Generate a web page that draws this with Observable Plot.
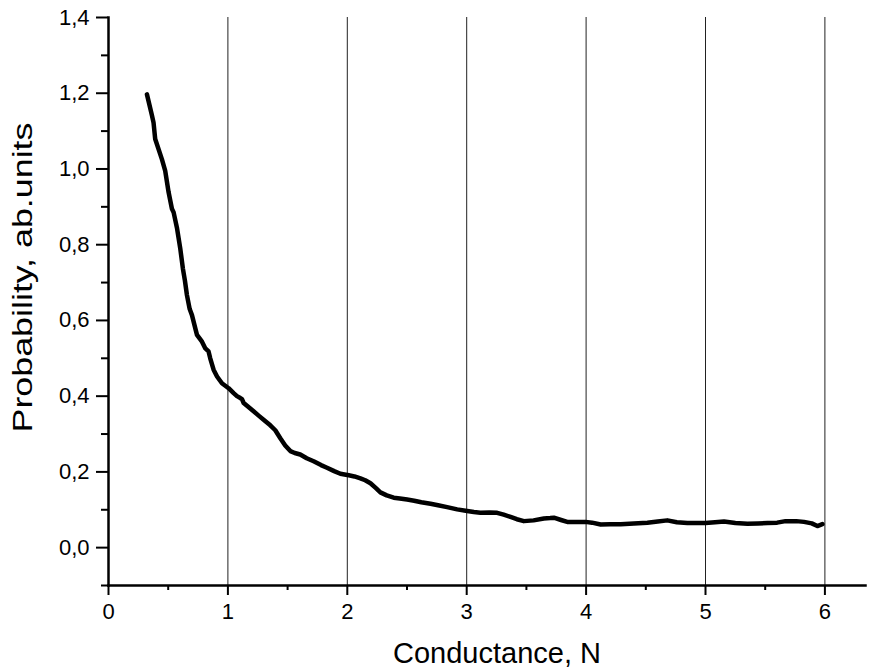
<!DOCTYPE html>
<html>
<head>
<meta charset="utf-8">
<script src="https://cdn.jsdelivr.net/npm/d3@7"></script>
<script src="https://cdn.jsdelivr.net/npm/@observablehq/plot@0.6"></script>
<style>
  html, body { margin: 0; padding: 0; background: #fff; }
  #chart { width: 879px; height: 670px; }
  svg { font-family: "Liberation Sans", Arial, sans-serif; }
</style>
</head>
<body>
<div id="chart"></div>
<script>
// Conductance (x) values
const conductance = [
  0.322, 0.364, 0.377, 0.391, 0.447, 0.475, 0.503, 0.531, 0.545, 0.573,
  0.601, 0.623, 0.640, 0.657, 0.680, 0.699, 0.727, 0.741, 0.783, 0.811,
  0.838, 0.852, 0.880, 0.909, 0.950, 1.006, 1.048, 1.076, 1.104, 1.118,
  1.132, 1.170, 1.215, 1.260, 1.299, 1.355, 1.397, 1.439, 1.480, 1.523,
  1.560, 1.606, 1.660, 1.718, 1.780, 1.830, 1.890, 1.942, 2.012, 2.060,
  2.110, 2.150, 2.194, 2.240, 2.277, 2.330, 2.389, 2.440, 2.501, 2.560,
  2.620, 2.697, 2.760, 2.836, 2.920, 3.004, 3.060, 3.115, 3.190, 3.255,
  3.310, 3.367, 3.420, 3.479, 3.560, 3.646, 3.700, 3.730, 3.790, 3.842,
  3.920, 3.995, 4.050, 4.122, 4.200, 4.290, 4.400, 4.513, 4.600, 4.680,
  4.760, 4.848, 4.920, 5.000, 5.080, 5.155, 5.250, 5.351, 5.440, 5.519,
  5.600, 5.670, 5.760, 5.825, 5.890, 5.937, 5.979
];
// Probability (y) values
const probability = [
  1.197, 1.141, 1.123, 1.079, 1.026, 0.995, 0.939, 0.895, 0.886, 0.845,
  0.790, 0.737, 0.705, 0.667, 0.630, 0.614, 0.579, 0.562, 0.544, 0.526,
  0.518, 0.500, 0.470, 0.452, 0.434, 0.421, 0.408, 0.400, 0.395, 0.392,
  0.382, 0.372, 0.360, 0.348, 0.338, 0.323, 0.310, 0.289, 0.270, 0.255,
  0.250, 0.246, 0.236, 0.228, 0.218, 0.211, 0.202, 0.195, 0.191, 0.188,
  0.183, 0.178, 0.170, 0.157, 0.146, 0.138, 0.132, 0.130, 0.127, 0.124,
  0.120, 0.116, 0.112, 0.107, 0.101, 0.097, 0.094, 0.092, 0.093, 0.092,
  0.087, 0.081, 0.075, 0.070, 0.072, 0.077, 0.078, 0.079, 0.073, 0.068,
  0.068, 0.068, 0.066, 0.061, 0.062, 0.062, 0.064, 0.066, 0.069, 0.072,
  0.067, 0.065, 0.065, 0.065, 0.067, 0.069, 0.065, 0.063, 0.064, 0.065,
  0.066, 0.070, 0.070, 0.068, 0.064, 0.057, 0.062
];

const xMajorTicks = [0, 1, 2, 3, 4, 5, 6];
const xMinorTicks = [0.5, 1.5, 2.5, 3.5, 4.5, 5.5];
const yMajorTicks = [0.0, 0.2, 0.4, 0.6, 0.8, 1.0, 1.2, 1.4];
const yMinorTicks = [-0.1, 0.1, 0.3, 0.5, 0.7, 0.9, 1.1, 1.3];
const gridLines = [1, 2, 3, 4, 5, 6];
const xLabel = "Conductance, N";
const yLabel = "Probability, ab.units";

const data = conductance.map((c, i) => ({x: c, y: probability[i]}));
const fmtComma = d => d.toFixed(1).replace(".", ",");

const plot = Plot.plot({
  width: 879,
  height: 670,
  marginLeft: 108,
  marginRight: 14,
  marginTop: 17,
  marginBottom: 85,
  style: {fontFamily: '"Liberation Sans", Arial, sans-serif', background: "#fff", color: "#000"},
  x: {domain: [0, 6.34]},
  y: {domain: [-0.1, 1.4]},
  marks: [
    Plot.ruleX(gridLines, {y1: -0.1, y2: 1.4, stroke: "#222", strokeWidth: 1}),
    Plot.axisX({ticks: xMinorTicks, tickSize: 5, tickFormat: null, strokeWidth: 2, label: null, text: null}),
    Plot.axisX({ticks: xMajorTicks, tickSize: 10, tickPadding: 8, tickFormat: d => String(d), strokeWidth: 2, fontSize: 22, label: null}),
    Plot.axisY({ticks: yMinorTicks, tickSize: 7, tickFormat: null, strokeWidth: 2, label: null, text: null}),
    Plot.axisY({ticks: yMajorTicks, tickSize: 12, tickPadding: 7, tickFormat: fmtComma, strokeWidth: 2, fontSize: 22, label: null}),
    Plot.frame({anchor: "bottom", strokeWidth: 2.5, stroke: "#000"}),
    Plot.frame({anchor: "left", strokeWidth: 2.5, stroke: "#000"}),
    Plot.line(data, {x: "x", y: "y", stroke: "#000", strokeWidth: 4.5, strokeLinejoin: "round", strokeLinecap: "round"}),
    Plot.text([xLabel], {frameAnchor: "bottom", text: d => d, dx: 10, dy: 77, lineAnchor: "bottom", fontSize: 29, fill: "#000"}),
    Plot.text([yLabel], {frameAnchor: "left", text: d => d, dx: -85, dy: 131, rotate: -90, textAnchor: "start", lineAnchor: "middle", fontSize: 27, fill: "#000"})
  ]
});

// stretch the rotated y label along its length to match the reference
d3.select(plot).selectAll("text").each(function() {
  if (this.textContent === yLabel) {
    d3.select(this).attr("textLength", 310).attr("lengthAdjust", "spacingAndGlyphs");
  }
});

document.getElementById("chart").appendChild(plot);
</script>
</body>
</html>
